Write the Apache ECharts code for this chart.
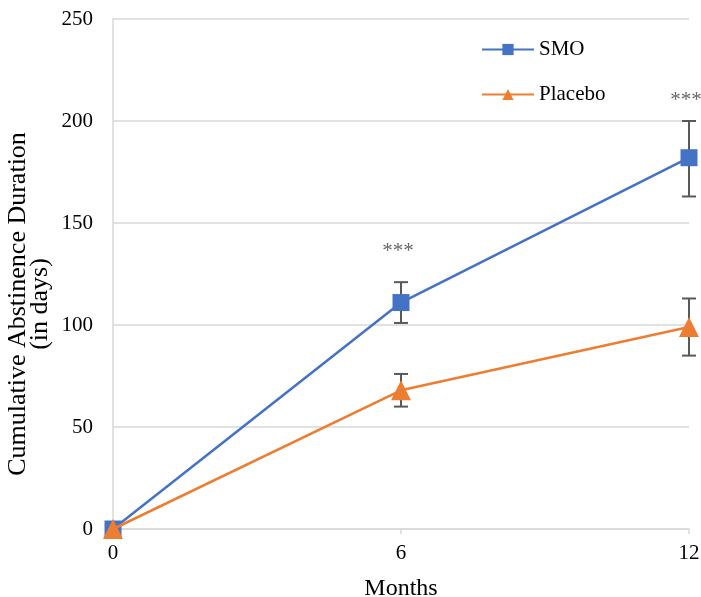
<!DOCTYPE html>
<html>
<head>
<meta charset="utf-8">
<script src="https://cdn.jsdelivr.net/npm/echarts@6/dist/echarts.min.js"></script>
<style>
  html, body { margin: 0; padding: 0; background: #fff; }
  #chart { width: 701px; height: 597px; }
</style>
</head>
<body>
<div id="chart"></div>
<script>
// months on the x axis
var months = [0, 6, 12];
var smo = [0, 111, 182];
var placebo = [0, 68, 99];
// error bar ranges [low, high], null where none is drawn
var smoErr = [null, [101, 121], [163, 200]];
var placeboErr = [null, [60, 76], [85, 113]];
// significance marks
var sigMonths = [6, 12];
var sigY = [136, 210];
var sigText = '***';

var FONT = 'Liberation Serif';
var BLUE = '#4472C4';
var ORANGE = '#ED7D31';

function pairs(xs, ys) {
  return xs.map(function (x, i) { return [x, ys[i]]; });
}
function errData(xs, errs) {
  var out = [];
  xs.forEach(function (x, i) {
    if (errs[i]) out.push([x, errs[i][0], errs[i][1]]);
  });
  return out;
}

function renderErr(params, api) {
  var x = api.value(0);
  var lo = api.coord([x, api.value(1)]);
  var hi = api.coord([x, api.value(2)]);
  var w = 7;
  var st = { stroke: '#595959', lineWidth: 2 };
  return {
    type: 'group',
    children: [
      { type: 'line', shape: { x1: lo[0], y1: lo[1], x2: hi[0], y2: hi[1] }, style: st },
      { type: 'line', shape: { x1: hi[0] - w, y1: hi[1], x2: hi[0] + w, y2: hi[1] }, style: st },
      { type: 'line', shape: { x1: lo[0] - w, y1: lo[1], x2: lo[0] + w, y2: lo[1] }, style: st }
    ]
  };
}

var chart = echarts.init(document.getElementById('chart'));
chart.setOption({
  animation: false,
  textStyle: { fontFamily: FONT },
  grid: { left: 113, right: 12, top: 19, bottom: 68, outerBoundsMode: 'none' },
  legend: {
    data: ['SMO', 'Placebo'],
    orient: 'vertical',
    left: 476,
    top: 34,
    itemGap: 24,
    itemWidth: 52,
    itemHeight: 14,
    textStyle: { fontFamily: FONT, fontSize: 21, color: '#000' }
  },
  xAxis: {
    type: 'value',
    min: 0,
    max: 12,
    interval: 6,
    name: 'Months',
    nameLocation: 'middle',
    nameGap: 48,
    nameTextStyle: { fontFamily: FONT, fontSize: 24, color: '#000' },
    axisLine: { lineStyle: { color: '#d9d9d9', width: 1.5 } },
    axisTick: { show: true, length: 5, lineStyle: { color: '#d9d9d9', width: 1.5 } },
    splitLine: { show: false },
    axisLabel: { fontFamily: FONT, fontSize: 21, color: '#000', margin: 14 }
  },
  yAxis: {
    type: 'value',
    min: 0,
    max: 250,
    interval: 50,
    axisLine: { show: true, lineStyle: { color: '#d9d9d9', width: 1.5 } },
    axisTick: { show: false },
    splitLine: { lineStyle: { color: '#d9d9d9', width: 1.5 } },
    axisLabel: { fontFamily: FONT, fontSize: 21, color: '#000', margin: 20 }
  },
  graphic: [{
    type: 'text',
    x: 29,
    y: 304,
    rotation: Math.PI / 2,
    style: {
      text: 'Cumulative Abstinence Duration\n(in days)',
      font: '26px "Liberation Serif"',
      fill: '#000',
      align: 'center',
      verticalAlign: 'middle',
      lineHeight: 22
    }
  }],
  series: [
    {
      type: 'custom',
      name: 'smoErr',
      renderItem: renderErr,
      data: errData(months, smoErr),
      z: 1
    },
    {
      type: 'custom',
      name: 'placeboErr',
      renderItem: renderErr,
      data: errData(months, placeboErr),
      z: 1
    },
    {
      type: 'line',
      name: 'SMO',
      data: pairs(months, smo),
      symbol: 'rect',
      symbolSize: 17,
      itemStyle: { color: BLUE },
      lineStyle: { color: BLUE, width: 2.5 },
      z: 3
    },
    {
      type: 'line',
      name: 'Placebo',
      data: pairs(months, placebo),
      symbol: 'triangle',
      symbolSize: 20,
      itemStyle: { color: ORANGE },
      lineStyle: { color: ORANGE, width: 2.5 },
      z: 4
    },
    {
      type: 'scatter',
      name: 'sig',
      data: pairs(sigMonths, sigY),
      symbolSize: 0,
      clip: false,
      label: {
        show: true,
        position: 'inside',
        offset: [-3, 0],
        formatter: sigText,
        fontFamily: FONT,
        fontSize: 21,
        color: '#404040'
      },
      z: 5
    }
  ]
});
</script>
</body>
</html>
